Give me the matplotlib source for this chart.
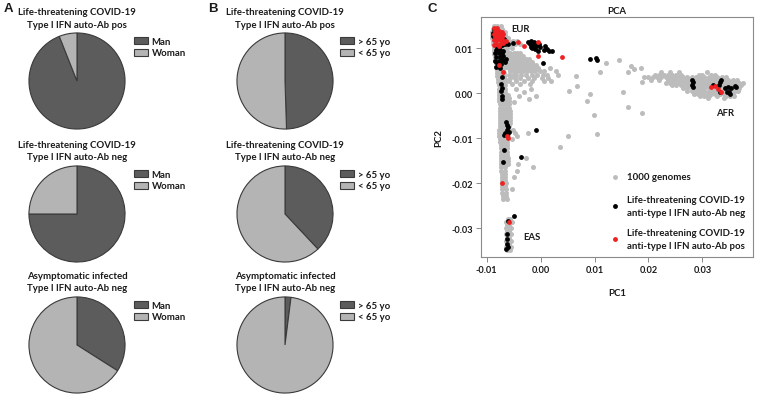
import matplotlib
matplotlib.use("Agg")
import matplotlib.pyplot as plt
import numpy as np

plt.rcParams['font.family'] = ['Lato', 'DejaVu Sans']

# ---------------- Panel A / B data ----------------
sex_labels = ["Man", "Woman"]
age_labels = ["> 65 yo", "< 65 yo"]
pie_titles = [
    ("Life-threatening COVID-19", "Type I IFN auto-Ab pos"),
    ("Life-threatening COVID-19", "Type I IFN auto-Ab neg"),
    ("Asymptomatic infected", "Type I IFN auto-Ab neg"),
]
sex_values = [[94, 6], [75, 25], [34, 66]]
age_values = [[49.5, 50.5], [38, 62], [2, 98]]

# ---------------- Panel C data (PC values in units of 1e-3) ----------------
# gray: 1000 genomes, rows of (PC2, [PC1 ...])
gray_eur_rows = [
    (15.0, [-8.6, -8.0, -7.4]),
    (14.3, [-8.9, -8.3, -7.7, -7.1]),
    (13.6, [-9.0, -8.4, -7.8, -7.2, -6.7]),
    (12.9, [-9.0, -8.4, -7.8, -7.2, -6.6]),
    (12.2, [-9.0, -8.4, -7.8, -7.2, -6.6, -6.0]),
    (11.5, [-8.9, -8.3, -7.7, -7.1, -6.5, -5.9, -5.2, -4.4]),
    (10.8, [-8.8, -8.2, -7.6, -7.0, -6.4, -5.6, -4.8, -3.8]),
    (10.1, [-8.7, -8.1, -7.5, -6.9, -6.3, -5.4]),
    (9.4, [-8.6, -8.0, -7.4, -6.8, -6.2]),
    (8.7, [-8.6, -8.0, -7.4, -6.8, -6.2]),
    (8.0, [-8.5, -7.9, -7.3, -6.7]),
    (7.3, [-8.4, -7.8, -7.2, -6.6]),
    (6.6, [-8.3, -7.7, -7.1, -6.5]),
    (5.9, [-8.2, -7.6, -7.0, -6.4]),
    (5.2, [-8.1, -7.5, -6.9]),
    (4.5, [-8.0, -7.4, -6.8]),
    (3.8, [-8.0, -7.4, -6.8]),
    (3.1, [-7.9, -7.3, -6.7]),
    (2.4, [-7.9, -7.3, -6.7]),
    (1.7, [-7.8, -7.2, -6.6]),
    (1.0, [-7.8, -7.2, -6.6]),
    (0.3, [-7.8, -7.2, -6.6]),
    (-0.4, [-7.8, -7.2, -6.6, -6.0]),
    (-1.1, [-7.7, -7.1, -6.5, -5.9]),
    (-1.8, [-7.7, -7.1, -6.5, -5.9]),
    (-2.5, [-7.6, -7.0, -6.4, -5.8]),
    (-3.2, [-7.6, -7.0, -6.4, -5.8]),
    (-3.9, [-7.5, -6.9, -6.3, -5.7]),
    (-4.6, [-7.5, -6.9, -6.3, -5.7]),
    (-5.3, [-7.5, -6.9, -6.3, -5.7]),
    (-6.0, [-7.5, -6.9, -6.3, -5.7]),
    (-6.7, [-7.5, -6.9, -6.3, -5.7]),
    (-7.4, [-7.6, -7.0, -6.4, -5.8]),
    (-8.1, [-7.7, -7.1, -6.5, -5.9, -5.2]),
    (-8.8, [-7.8, -7.2, -6.6, -6.0, -4.8, -2.4]),
    (-9.5, [-7.8, -7.2, -6.6, -6.0, -4.4]),
    (-10.2, [-7.6, -7.0, -6.4, -5.3]),
    (-10.9, [-7.5, -6.9, -6.3]),
    (-11.6, [-7.4, -6.8, -6.2]),
    (-12.3, [-7.4, -6.8, -6.2]),
    (-13.0, [-7.4, -6.8, -6.2]),
    (-13.7, [-7.4, -6.8, -6.2]),
    (-14.4, [-7.3, -6.7, -6.1, -2.7]),
    (-15.1, [-7.3, -6.7, -6.1]),
    (-15.8, [-7.3, -6.7, -6.1, -4.2]),
    (-16.5, [-7.3, -6.7, -1.4]),
    (-17.2, [-7.3, -6.7, -4.4]),
    (-17.9, [-7.2, -6.6]),
    (-18.6, [-7.2, -6.6, -4.9]),
    (-19.3, [-7.2, -6.6]),
    (-20.0, [-7.1, -6.5]),
    (-20.7, [-7.2, -6.6]),
    (-21.4, [-7.1, -6.5, -5.3]),
    (-22.1, [-7.1, -6.5]),
    (-22.8, [-7.0, -6.4]),
    (-23.5, [-6.9, -6.3]),
]
gray_band_rows = [
    (9.0, [-5.6, -5.0, -4.4, -3.8]),
    (8.3, [-5.6, -5.0, -4.4, -3.8, -3.2]),
    (7.6, [-5.8, -5.2, -4.6, -4.0, -3.4, -2.8, -2.2]),
    (6.9, [-5.8, -5.2, -4.6, -4.0, -3.4, -2.8, -2.2, -1.6]),
    (6.2, [-5.6, -5.0, -4.4, -3.8, -3.2, -2.6, -2.0, -1.4, -0.8]),
    (5.5, [-5.8, -5.2, -4.6, -4.0, -3.4, -2.8, -2.2, -1.6, -1.0, -0.4, 1.8]),
    (4.8, [-5.6, -5.0, -4.4, -3.8, -3.2, -2.6, -1.8, -1.0, -0.2, 0.6, 2.8]),
    (4.1, [-5.8, -5.2, -4.6, -3.6, -2.8, -1.6, -0.6, 0.4, 1.2, 3.2]),
    (3.4, [-5.6, -4.8, -3.8, -2.4, -1.2, 0.2, 1.4]),
    (2.7, [-5.8, -4.6, -3.0, -1.6, 0.6, 2.0]),
    (2.0, [-5.4, -3.8, -2.0]),
    (1.0, [-4.6, -1.8]),
    (0.2, [-3.0]),
    (-0.6, [-4.0, -0.8]),
    (-1.4, [-2.2]),
    (-2.0, [-5.0]),
]
gray_eas_rows = [
    (-27.9, [-6.1, -5.6]),
    (-28.6, [-6.4, -5.9, -5.4]),
    (-29.3, [-6.3, -5.8]),
    (-30.0, [-6.5, -6.0, -5.5]),
    (-30.7, [-6.3, -5.8]),
    (-31.4, [-6.5, -6.0, -5.5]),
    (-32.1, [-6.3, -5.8]),
    (-32.8, [-6.5, -6.0, -5.5]),
    (-33.5, [-6.3, -5.8]),
    (-34.2, [-6.5, -6.0, -5.5]),
    (-34.9, [-6.2, -5.7]),
]
gray_sparse_x = [12.2, 14.5, 16.7, 17.3, 18.6, 16.2, 11.1, 6.5, 6.7, 5.2, 9.1, 8.6,
                 15.2, 16.2, 18.9, 9.9, 5.1, 10.4, 3.6, 18.9]
gray_sparse_y = [6.7, 7.3, 6.0, 5.3, 5.6, 4.7, 4.7, 3.8, 1.6, 0.4, -0.2, -1.8,
                 0.2, -3.1, -4.4, -4.9, -9.5, -9.1, -12.0, 2.4]
gray_afr_rows = [
    (4.6, [22.4, 24.0, 25.6, 30.8]),
    (4.1, [21.2, 22.0, 22.8, 23.6, 24.4, 25.2, 26.0, 29.4, 30.0, 31.6, 32.4]),
    (3.5, [19.2, 20.0, 20.8, 21.6, 22.4, 23.2, 24.0, 24.8, 25.6, 26.4, 27.2, 28.0,
           28.8, 29.6, 30.4, 31.2, 32.0, 32.8, 33.6, 34.4]),
    (2.9, [20.4, 22.0, 23.6, 24.4, 25.2, 26.0, 26.8, 27.6, 28.4, 29.2, 30.0, 30.8,
           31.6, 32.4, 33.2, 34.0, 34.8, 35.6, 36.4]),
    (2.3, [23.2, 24.0, 24.8, 25.6, 26.4, 27.2, 28.0, 28.8, 29.6, 30.4, 31.2, 32.0,
           32.8, 33.6, 34.4, 35.2, 36.0, 36.8, 37.6]),
    (1.7, [24.4, 25.2, 26.0, 26.8, 27.6, 28.4, 29.2, 30.0, 30.8, 31.6, 32.4, 33.2,
           34.0, 34.8, 35.6, 36.4, 37.2]),
    (1.1, [26.4, 27.2, 28.0, 28.8, 29.6, 30.4, 31.2, 32.0, 32.8, 33.6, 34.4, 35.2,
           36.0, 36.8]),
    (0.5, [27.2, 28.0, 28.8, 29.6, 30.4, 31.2, 32.0, 32.8, 33.6, 34.4, 35.2, 36.0,
           36.6]),
    (-0.1, [28.4, 29.2, 30.0, 30.8, 31.6, 32.4, 33.2, 34.0, 34.8, 35.6]),
    (-0.6, [29.6, 30.4, 31.2, 32.8, 34.4, 35.2, 35.8]),
    (-1.0, [31.0, 34.0]),
]

# black: life-threatening COVID-19, auto-Ab neg
black_x = [-8.6, -8.8, -8.2, -7.2, -6.6, -6.0, -5.2, -8.4, -8.0, -7.6, -8.8, -6.8,
           -8.2, -7.6, -7.0, -8.4, -7.8, -7.2, -8.2, -7.6, -7.0, -8.4, -7.8, -7.2,
           -6.4, -8.0, -7.4, -6.6, -8.2, -7.6, -7.2,
           -7.3, -7.2, -7.3, -7.1, -7.2,
           -6.4, -6.2, -6.0, -6.3, -6.6, -6.2, -6.8, -5.8,
           -6.8, -7.0, -3.6, -0.9,
           -4.9, -6.0, -6.2, -6.2, -6.3, -6.1, -6.4,
           -2.4, -1.8, -1.2, -0.6, -2.0, -1.4, -0.8, -0.2, -1.6, -1.0, -0.4, -0.3, -1.8,
           0.8, 1.2, 1.6, 2.2, 0.6, 0.4,
           9.1, 10.2, 10.5,
           28.1, 28.2, 28.1, 28.3,
           31.9, 33.2, 34.2, 34.7, 35.4, 36.0, 34.5, 35.2, 33.3, 33.1, 33.4, 36.2, 34.9]
black_y = [14.2, 13.4, 12.0, 10.6, 10.8, 11.0, 11.2, 10.6, 10.2, 10.4, 12.6, 12.0,
           9.6, 9.6, 9.4, 8.8, 8.8, 8.8, 8.0, 8.0, 8.2, 7.2, 7.2, 7.4,
           7.6, 6.6, 6.4, 6.8, 5.8, 5.6, 3.5,
           2.0, 1.2, 0.4, -0.6, -1.2,
           -6.4, -7.0, -7.6, -8.2, -8.8, -9.4, -9.2, -8.6,
           -12.7, -15.4, -14.3, -8.3,
           -27.4, -28.4, -31.3, -32.3, -33.5, -34.2, -34.6,
           11.3, 11.5, 11.4, 11.1, 10.8, 10.6, 10.4, 10.2, 10.0, 9.7, 9.4, 10.8, 10.3,
           10.4, 9.8, 9.4, 9.3, 9.6, 6.7,
           7.6, 7.7, 7.4,
           3.0, 2.5, 1.9, 1.4,
           1.8, 2.4, 1.1, 1.3, 1.1, 1.6, 0.2, -0.2, 0.2, 1.8, 2.9, 1.4, 0.3]

# red: life-threatening COVID-19, auto-Ab pos
red_x = [-8.6, -8.0, -8.4, -7.8, -7.2, -8.7, -8.1, -7.5, -6.9, -8.4, -7.8, -7.2,
         -8.6, -8.0, -7.4, -6.8, -8.2, -7.6, -7.0, -8.6, -7.8, -6.4,
         -4.2, -3.1, -0.5, -0.5, 3.9, -7.7, -7.0, -6.2, -6.1, -7.2, -5.9,
         31.7, 32.3, 32.9, 33.5]
red_y = [14.4, 14.5, 13.8, 13.8, 13.6, 13.1, 13.1, 13.0, 13.2, 12.4, 12.4, 12.4,
         11.7, 11.7, 11.8, 11.6, 11.0, 11.0, 11.2, 10.6, 10.5, 11.6,
         11.3, 10.5, 11.3, 8.3, 8.0, 6.2, 4.6, -9.5, -10.0, -20.0, -28.6,
         1.3, 1.5, 0.9, 0.3]

x_ticks = [-0.01, 0.00, 0.01, 0.02, 0.03]
y_ticks = [-0.03, -0.02, -0.01, 0.00, 0.01]

# ---------------- figure ----------------
W, H = 774, 402
fig = plt.figure(figsize=(W / 100, H / 100), dpi=100)

DARK = "#5c5c5c"
LIGHT = "#b4b4b4"
EDGE = "#3a3a3a"
TXT = "#1a1a1a"


def px_axes(x0, y0, w, h):
    return fig.add_axes([x0 / W, 1 - (y0 + h) / H, w / W, h / H])


def draw_pie(cx, cy, r, vals, labels, title, leg_x, leg_y):
    ax = px_axes(cx - r, cy - r, 2 * r, 2 * r)
    wedges, _ = ax.pie(vals, colors=[DARK, LIGHT], startangle=90, counterclock=False,
                       wedgeprops=dict(edgecolor=EDGE, linewidth=0.8), radius=1.0)
    ax.set_xlim(-1.02, 1.02)
    ax.set_ylim(-1.02, 1.02)
    ax.set_aspect('equal')
    ax.axis('off')
    top = cy - r
    fig.text(cx / W, 1 - (top - 20.5) / H, title[0], ha='center', va='center',
             fontsize=6.9, fontweight='bold', color=TXT)
    fig.text(cx / W, 1 - (top - 8) / H, title[1], ha='center', va='center',
             fontsize=6.9, fontweight='bold', color=TXT)
    ax.legend(wedges, labels, loc='upper left',
              bbox_to_anchor=(leg_x / W, 1 - leg_y / H), bbox_transform=fig.transFigure,
              frameon=False, handlelength=1.5, handleheight=0.75, handletextpad=0.35,
              labelspacing=0.25, borderpad=0, borderaxespad=0,
              prop=dict(size=6.9, weight='bold'), labelcolor=TXT)


pie_centers_y = [82, 215, 346]
for i in range(3):
    draw_pie(77, pie_centers_y[i], 49, sex_values[i], sex_labels, pie_titles[i],
             134, pie_centers_y[i] - 44)
    draw_pie(285, pie_centers_y[i], 49, age_values[i], age_labels, pie_titles[i],
             340, pie_centers_y[i] - 44)

# panel letters
for lab, x, y in [("A", 4, 9), ("B", 208, 9), ("C", 428, 9)]:
    fig.text(x / W, 1 - y / H, lab, ha='left', va='center', fontsize=9.5,
             fontweight='bold', family='Liberation Sans', color=TXT)

# ---------------- Panel C ----------------
axc = px_axes(481, 18, 272, 240)


def rows_to_xy(rows):
    xs, ys = [], []
    for yv, xl in rows:
        for xv in xl:
            xs.append(xv)
            ys.append(yv)
    return xs, ys


gx, gy = [], []
for rows in (gray_eur_rows, gray_band_rows, gray_eas_rows, gray_afr_rows):
    a, b = rows_to_xy(rows)
    gx += a
    gy += b
gx += gray_sparse_x
gy += gray_sparse_y
scale = 1e-3
axc.scatter(np.array(gx) * scale, np.array(gy) * scale, s=13, c="#bcbcbc",
            linewidths=0, zorder=2)
axc.scatter(np.array(black_x) * scale, np.array(black_y) * scale, s=12, c="black",
            linewidths=0, zorder=3)
axc.scatter(np.array(red_x) * scale, np.array(red_y) * scale, s=12, c="#ee2222",
            linewidths=0, zorder=4)

axc.set_xlim(-0.01106, 0.0394)
axc.set_ylim(-0.0364, 0.0169)
axc.set_xticks(x_ticks)
axc.set_yticks(y_ticks)
axc.set_xticklabels([f"{v:.2f}" for v in x_ticks])
axc.set_yticklabels([f"{v:.2f}" for v in y_ticks])
for sp in axc.spines.values():
    sp.set_color("#8a8a8a")
    sp.set_linewidth(0.8)
axc.tick_params(direction='out', length=3.5, width=0.7, color="#8a8a8a",
                labelsize=6.6, pad=2, labelcolor=TXT)
for t in axc.get_xticklabels() + axc.get_yticklabels():
    t.set_fontweight('bold')
axc.set_title("PCA", fontsize=6.9, fontweight='bold', pad=3, color=TXT)
axc.set_xlabel("PC1", fontsize=6.9, fontweight='bold', labelpad=10, color=TXT)
axc.set_ylabel("PC2", fontsize=6.9, fontweight='bold', labelpad=6, color=TXT)

# cluster labels
for lab, x, y in [("EUR", 520, 30), ("AFR", 725, 113), ("EAS", 532, 238)]:
    fig.text(x / W, 1 - y / H, lab, ha='center', va='center', fontsize=6.9,
             fontweight='bold', color=TXT)

# legend inside panel C
leg_items = [
    ("#bcbcbc", 178, ["1000 genomes"]),
    ("black", 207, ["Life-threatening COVID-19", "anti-type I IFN auto-Ab neg"]),
    ("#ee2222", 240, ["Life-threatening COVID-19", "anti-type I IFN auto-Ab pos"]),
]
for col, yc, lines in leg_items:
    axc.plot([(615 - 481) / 272], [1 - (yc - 18) / 240], 'o', color=col, ms=3.5,
             mec='none', transform=axc.transAxes, zorder=5)
    if len(lines) == 1:
        fig.text(627 / W, 1 - yc / H, lines[0], ha='left', va='center', fontsize=6.9,
                 fontweight='bold', color=TXT)
    else:
        fig.text(627 / W, 1 - (yc - 6.5) / H, lines[0], ha='left', va='center',
                 fontsize=6.9, fontweight='bold', color=TXT)
        fig.text(627 / W, 1 - (yc + 6.5) / H, lines[1], ha='left', va='center',
                 fontsize=6.9, fontweight='bold', color=TXT)

fig.savefig("out.png", dpi=100)
